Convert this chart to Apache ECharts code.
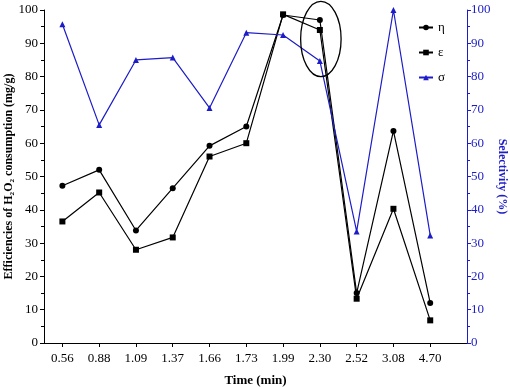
<!DOCTYPE html>
<html>
<head>
<meta charset="utf-8">
<script src="https://cdn.jsdelivr.net/npm/echarts@6/dist/echarts.min.js"></script>
<style>
  html, body { margin: 0; padding: 0; background: #fff; }
  #chart { width: 510px; height: 387px; }
</style>
</head>
<body>
<div id="chart"></div>
<script>
// time labels (min), one per sample
var times = ['0.56', '0.88', '1.09', '1.37', '1.66', '1.73', '1.99', '2.30', '2.52', '3.08', '4.70'];
// efficiency of H2O2 consumption (mg/g)
var eta = [47.2, 52.0, 33.8, 46.5, 59.2, 65.0, 98.5, 97.0, 15.0, 63.7, 12.0];
var eps = [36.5, 45.2, 28.0, 31.7, 56.0, 60.0, 98.7, 94.0, 13.3, 40.3, 6.8];
// selectivity (%)
var sigma = [95.7, 65.5, 85.0, 85.7, 70.6, 93.2, 92.5, 84.7, 33.5, 100.0, 32.3];

var BLUE = '#1c1cc8';
var FONT = '"Liberation Serif", "Times New Roman", serif';

function pairs(arr) {
    return arr.map(function (v, i) { return [i + 1, v]; });
}
var positions = times.map(function (t, i) { return i + 1; });

var chart = echarts.init(document.getElementById('chart'));

var option = {
    animation: false,
    backgroundColor: '#fff',
    textStyle: { fontFamily: FONT },
    grid: { left: 44, right: 43, top: 10, bottom: 44, outerBoundsMode: 'none', containLabel: false },
    legend: {
        orient: 'vertical',
        left: 413,
        top: 16,
        itemWidth: 14,
        itemHeight: 7,
        itemGap: 12,
        textStyle: { fontFamily: FONT, fontSize: 13, color: '#000' },
        data: ['η', 'ε', 'σ']
    },
    xAxis: [{
        type: 'value',
        min: 0.5,
        max: 12,
        name: 'Time (min)',
        nameLocation: 'middle',
        nameGap: 31,
        nameMoveOverlap: false,
        nameTextStyle: { fontFamily: FONT, fontSize: 13, fontWeight: 'bold', color: '#000' },
        splitLine: { show: false },
        axisLine: { lineStyle: { color: '#000', width: 1 } },
        axisTick: { customValues: positions, length: 4, lineStyle: { color: '#000' } },
        axisLabel: {
            customValues: positions,
            fontFamily: FONT, fontSize: 13, color: '#000', margin: 9,
            formatter: function (v) { return times[Math.round(v) - 1] || ''; }
        }
    }, {
        type: 'value',
        position: 'top',
        min: 0.5,
        max: 12,
        splitLine: { show: false },
        axisLine: { lineStyle: { color: '#000', width: 1 } },
        axisTick: { show: false },
        axisLabel: { show: false }
    }],
    yAxis: [{
        type: 'value',
        min: 0,
        max: 100,
        interval: 10,
        name: 'Efficiencies of H₂O₂ consumption (mg/g)',
        nameLocation: 'middle',
        nameGap: 29,
        nameMoveOverlap: false,
        nameTextStyle: { fontFamily: FONT, fontSize: 12, fontWeight: 'bold', color: '#000' },
        splitLine: { show: false },
        axisLine: { show: true, lineStyle: { color: '#000', width: 1 } },
        axisTick: { length: 4, lineStyle: { color: '#000' } },
        minorTick: { show: true, splitNumber: 2, length: 3, lineStyle: { color: '#000' } },
        axisLabel: { fontFamily: FONT, fontSize: 13, color: '#000', margin: 6 }
    }, {
        type: 'value',
        min: 0,
        max: 100,
        interval: 10,
        position: 'right',
        name: 'Selectivity (%)',
        nameLocation: 'middle',
        nameGap: 29,
        nameRotate: -90,
        nameMoveOverlap: false,
        nameTextStyle: { fontFamily: FONT, fontSize: 12, fontWeight: 'bold', color: BLUE },
        splitLine: { show: false },
        axisLine: { show: true, lineStyle: { color: BLUE, width: 1 } },
        axisTick: { length: 4, lineStyle: { color: BLUE } },
        minorTick: { show: true, splitNumber: 2, length: 3, lineStyle: { color: BLUE } },
        axisLabel: { fontFamily: FONT, fontSize: 13, color: BLUE, margin: 4 }
    }],
    series: [{
        name: 'η',
        type: 'line',
        yAxisIndex: 0,
        data: pairs(eta),
        symbol: 'circle',
        symbolSize: 6,
        itemStyle: { color: '#000' },
        lineStyle: { color: '#000', width: 1.2 }
    }, {
        name: 'ε',
        type: 'line',
        yAxisIndex: 0,
        data: pairs(eps),
        symbol: 'rect',
        symbolSize: 6,
        itemStyle: { color: '#000' },
        lineStyle: { color: '#000', width: 1.2 }
    }, {
        name: 'σ',
        type: 'line',
        yAxisIndex: 1,
        data: pairs(sigma),
        symbol: 'triangle',
        symbolSize: 6,
        itemStyle: { color: BLUE },
        lineStyle: { color: BLUE, width: 1.2 }
    }]
};

chart.setOption(option);

// ellipse highlighting the 2.30 min samples
var c = chart.convertToPixel({ xAxisIndex: 0, yAxisIndex: 0 }, [8, 91.3]);
var e = chart.convertToPixel({ xAxisIndex: 0, yAxisIndex: 0 }, [8.55, 80.0]);
chart.setOption({
    graphic: [{
        type: 'ellipse',
        shape: { cx: c[0] + 1, cy: c[1], rx: e[0] - c[0], ry: e[1] - c[1] },
        style: { fill: 'none', stroke: '#000', lineWidth: 1.3 },
        z: 100
    }]
});
</script>
</body>
</html>
